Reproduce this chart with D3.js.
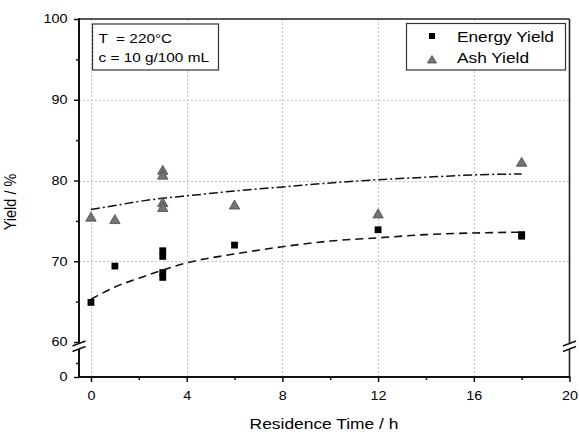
<!DOCTYPE html>
<html><head><meta charset="utf-8">
<script src="https://cdn.jsdelivr.net/npm/d3@7"></script>
<style>body{margin:0;background:#fff} text{font-family:"Liberation Sans",Arial,sans-serif;fill:#000}</style>
</head><body><svg id="c" width="579" height="432"></svg>
<script>
// ---- data ----
const energyX = [0, 1, 3, 3, 3, 3, 6, 12, 18, 18];
const energyY = [64.9, 69.4, 71.3, 70.6, 68.6, 68.0, 72.0, 73.9, 73.3, 73.1];
const ashX = [0, 1, 3, 3, 3, 3, 6, 12, 18];
const ashY = [75.4, 75.1, 81.2, 80.6, 77.2, 76.6, 76.9, 75.8, 82.2];
const fitX = [0, 1, 2, 3, 4, 6, 8, 10, 12, 14, 16, 18];
const energyFit = [65.3, 66.8, 67.9, 68.9, 69.8, 70.9, 71.8, 72.5, 72.9, 73.3, 73.5, 73.6];
const ashFit = [76.4, 76.9, 77.4, 77.8, 78.1, 78.7, 79.2, 79.7, 80.1, 80.4, 80.7, 80.8];
const xTicks = [0, 4, 8, 12, 16, 20];
const xMinor = [2, 6, 10, 14, 18];
const yTicks = [60, 70, 80, 90, 100];
const yMinor = [65, 75, 85, 95];
const yLowTicks = [0];
const yLowMinor = [5];
const gridX = [0, 4, 8, 12, 16];
const gridY = [70, 80, 90];
const legendLabels = ["Energy Yield", "Ash Yield"];
const noteLines = ["T  = 220°C", "c = 10 g/100 mL"];
const xLabel = "Residence Time / h";
const yLabel = "Yield / %";

// ---- layout ----
const L = 79, R = 569.5, T = 19, B = 377;
const SX = 1.2; // horizontal text stretch
const svg = d3.select("#c");
const x = d3.scaleLinear().domain([-0.5, 20]).range([L, R]);
const y = d3.scaleLinear().domain([60, 100]).range([342, T]);
const yLow = d3.scaleLinear().domain([0, 10]).range([B, 349]);

// grid
const grid = svg.append("g").attr("stroke", "#c4c4c4").attr("stroke-width", 1).attr("stroke-dasharray", "2,2");
grid.selectAll(".gx").data(gridX).join("line")
  .attr("x1", d => Math.round(x(d)) + 0.5).attr("x2", d => Math.round(x(d)) + 0.5)
  .attr("y1", T).attr("y2", B);
grid.selectAll(".gy").data(gridY).join("line")
  .attr("x1", L).attr("x2", R)
  .attr("y1", d => Math.round(y(d)) + 0.5).attr("y2", d => Math.round(y(d)) + 0.5);

// frame top / right
svg.append("line").attr("x1", L).attr("x2", R).attr("y1", T).attr("y2", T).attr("stroke", "#222").attr("stroke-width", 1.6);
svg.append("line").attr("x1", R).attr("x2", R).attr("y1", T).attr("y2", 343.5).attr("stroke", "#222").attr("stroke-width", 1.6);
svg.append("line").attr("x1", R).attr("x2", R).attr("y1", 349).attr("y2", B).attr("stroke", "#222").attr("stroke-width", 1.6);

function styleAxis(g) {
  g.select(".domain").remove();
  g.selectAll("line").attr("stroke", "#111").attr("stroke-width", 1.5);
  g.selectAll("text").attr("font-size", 12).attr("fill", "#000")
   .attr("font-family", '"Liberation Sans",Arial,sans-serif');
}

// y axes (upper & lower)
const gyU = svg.append("g").attr("transform", `translate(${L},0)`)
  .call(d3.axisLeft(y).tickValues(yTicks).tickSize(5).tickPadding(4));
styleAxis(gyU);
gyU.selectAll("text").attr("x", -9.6).attr("transform", `scale(${SX},1)`);
const gyUm = svg.append("g").attr("transform", `translate(${L},0)`)
  .call(d3.axisLeft(y).tickValues(yMinor).tickSize(3).tickFormat(""));
styleAxis(gyUm);
const gyL = svg.append("g").attr("transform", `translate(${L},0)`)
  .call(d3.axisLeft(yLow).tickValues(yLowTicks).tickSize(5));
styleAxis(gyL);
gyL.selectAll("text").attr("x", -9.6).attr("transform", `scale(${SX},1)`);
const gyLm = svg.append("g").attr("transform", `translate(${L},0)`)
  .call(d3.axisLeft(yLow).tickValues(yLowMinor).tickSize(3).tickFormat(""));
styleAxis(gyLm);

// x axis
const gx = svg.append("g").attr("transform", `translate(0,${B})`)
  .call(d3.axisBottom(x).tickValues(xTicks).tickSize(5));
styleAxis(gx);
gx.selectAll("text").attr("y", 23).attr("dy", null).attr("transform", `scale(${SX},1)`);
const gxm = svg.append("g").attr("transform", `translate(0,${B})`)
  .call(d3.axisBottom(x).tickValues(xMinor).tickSize(3).tickFormat(""));
styleAxis(gxm);

// axis lines
svg.append("line").attr("x1", L).attr("x2", L).attr("y1", T - 0.8).attr("y2", 343.5).attr("stroke", "#111").attr("stroke-width", 2);
svg.append("line").attr("x1", L).attr("x2", L).attr("y1", 349).attr("y2", B + 1).attr("stroke", "#111").attr("stroke-width", 2);
svg.append("line").attr("x1", L - 1).attr("x2", R + 0.8).attr("y1", B).attr("y2", B).attr("stroke", "#111").attr("stroke-width", 2);

// break marks
const brk = svg.append("g").attr("stroke", "#111").attr("stroke-width", 1.4);
[L, R].forEach(cx => {
  brk.append("line").attr("x1", cx - 6.5).attr("y1", 346).attr("x2", cx + 6.5).attr("y2", 341);
  brk.append("line").attr("x1", cx - 6.5).attr("y1", 351.5).attr("x2", cx + 6.5).attr("y2", 346.5);
});

// fit curves
const line = (ys) => d3.line().x((d, i) => x(fitX[i])).y(d => y(d)).curve(d3.curveMonotoneX)(ys);
svg.append("path").attr("d", line(energyFit)).attr("fill", "none").attr("stroke", "#111")
  .attr("stroke-width", 1.6).attr("stroke-dasharray", "8,5");
svg.append("path").attr("d", line(ashFit)).attr("fill", "none").attr("stroke", "#111")
  .attr("stroke-width", 1.5).attr("stroke-dasharray", "9,3,2,3");

// markers
const tri = "M0,-5.5L5.2,3.5L-5.2,3.5Z";
svg.append("g").selectAll("path").data(ashX).join("path")
  .attr("d", tri).attr("transform", (d, i) => `translate(${x(d)},${y(ashY[i])})`)
  .attr("fill", "#747474").attr("stroke", "#4a4a4a").attr("stroke-width", 0.8);
svg.append("g").selectAll("rect").data(energyX).join("rect")
  .attr("x", d => x(d) - 3.4).attr("y", (d, i) => y(energyY[i]) - 3.4)
  .attr("width", 6.8).attr("height", 6.8).attr("fill", "#000");

// legend
svg.append("rect").attr("x", 406.5).attr("y", 23.5).attr("width", 159).attr("height", 46.5)
  .attr("fill", "#fff").attr("stroke", "#333").attr("stroke-width", 1.2);
svg.append("rect").attr("x", 432 - 3).attr("y", 36 - 3).attr("width", 6).attr("height", 6).attr("fill", "#000");
svg.append("path").attr("d", "M0,-4.5L4.6,3L-4.6,3Z").attr("transform", "translate(432,60)")
  .attr("fill", "#747474").attr("stroke", "#4a4a4a").attr("stroke-width", 0.8);
legendLabels.forEach((t, i) => {
  svg.append("text").attr("transform", `translate(457,${[42.3, 63.3][i]}) scale(${SX},1)`)
    .attr("font-size", 14.4).text(t);
});

// annotation box
svg.append("rect").attr("x", 92.5).attr("y", 24).attr("width", 126).attr("height", 46)
  .attr("fill", "#fff").attr("stroke", "#333").attr("stroke-width", 1.2);
noteLines.forEach((t, i) => {
  svg.append("text").attr("transform", `translate(98.5,${[42.7, 62.3][i]}) scale(${SX},1)`)
    .attr("font-size", 12.8).attr("xml:space", "preserve").style("white-space", "pre").text(t);
});

// axis titles
svg.append("text").attr("transform", `translate(324,429) scale(${SX},1)`)
  .attr("text-anchor", "middle").attr("font-size", 14.5).text(xLabel);
svg.append("text").attr("transform", `translate(15.5,202) scale(${SX},1) rotate(-90)`)
  .attr("text-anchor", "middle").attr("font-size", 14.5).text(yLabel);
</script></body></html>
